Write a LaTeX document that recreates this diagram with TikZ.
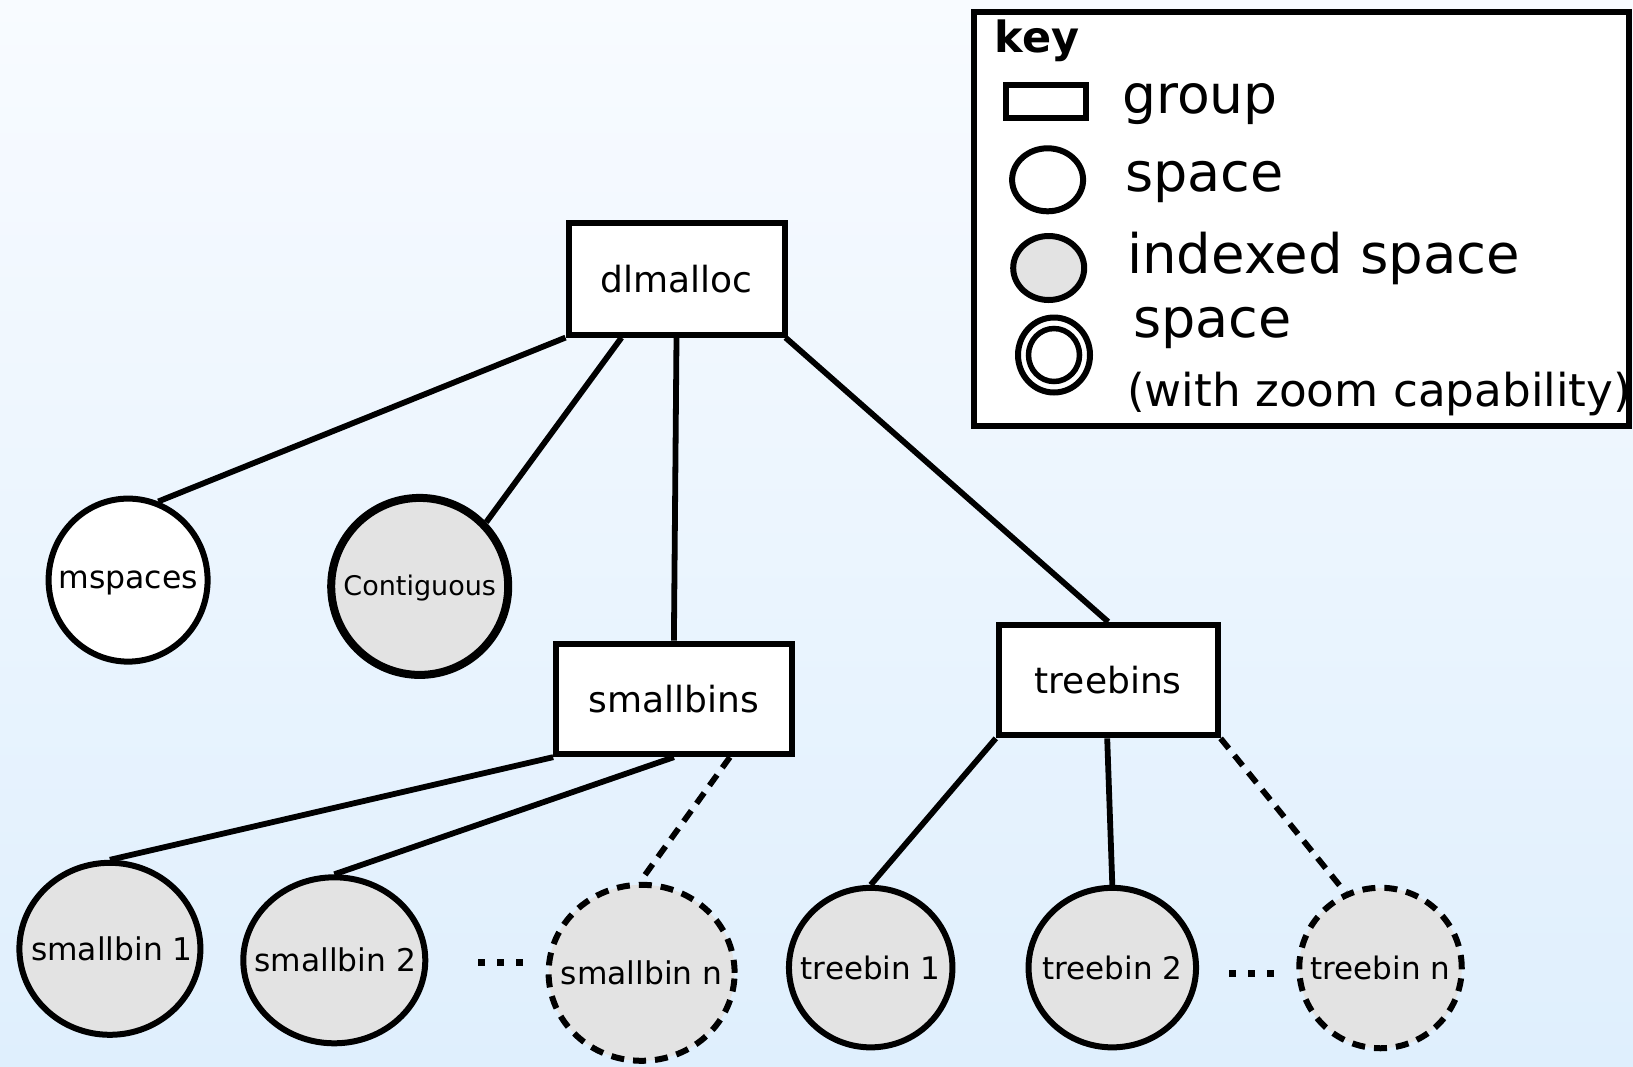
\documentclass[tikz,border=0pt]{standalone}
\usepackage{fontspec}
\setmainfont{DejaVu Sans}
\usetikzlibrary{shapes.geometric}
\definecolor{bgtop}{HTML}{F8FBFF}
\definecolor{bgbot}{HTML}{DFEFFD}
\definecolor{binfill}{HTML}{E3E3E3}
\newcommand{\fsz}[1]{\fontsize{#1}{#1}\selectfont}
\begin{document}
\begin{tikzpicture}[x=1pt,y=-1pt,
  group/.style={draw, line width=6pt, fill=white, inner sep=0pt, font=\fsz{36}},
  space/.style={ellipse, draw, line width=6pt, fill=white, inner sep=0pt},
  indexed/.style={space, fill=binfill},
  pending/.style={indexed, dash pattern=on 13pt off 9pt},
  link/.style={line width=5.8pt},
  dashlink/.style={line width=5.8pt, dash pattern=on 13pt off 9pt},
  keytext/.style={anchor=base west, inner sep=0pt},
  dotmark/.style={fill=black}
]
% background
\shade[top color=bgtop, bottom color=bgbot] (0,0) rectangle (1633,1066);
\useasboundingbox (0,0) rectangle (1633,1066);

% groups
\node[group, minimum width=216pt, minimum height=112pt] (dlmalloc) at (676.5,278.6) {dlmalloc};
\node[group, minimum width=235.5pt, minimum height=110.5pt] (smallbins) at (673.9,698.9) {smallbins};
\node[group, minimum width=218.8pt, minimum height=110.5pt] (treebins) at (1108.2,680.1) {treebins};

% spaces
\node[space, minimum width=159pt, minimum height=163pt,
      label={[font=\fsz{31.5}, yshift=-3pt]center:mspaces}] (mspaces) at (128.1,580.1) {};
\node[indexed, line width=8pt, minimum width=177pt, minimum height=177pt,
      label={[font=\fsz{27}, yshift=-2pt]center:Contiguous}] (contig) at (419.7,586.4) {};

\node[indexed, minimum width=181pt, minimum height=172pt,
      label={[font=\fsz{31.3}, xshift=2pt]center:smallbin 1}] (sb1) at (109.9,948.8) {};
\node[indexed, minimum width=182pt, minimum height=166pt,
      label={[font=\fsz{31.3}, xshift=1pt]center:smallbin 2}] (sb2) at (334.3,960.3) {};
\node[pending, minimum width=186pt, minimum height=176pt,
      label={[font=\fsz{31.3}]center:smallbin n}] (sbn) at (641.6,972.8) {};

\node[indexed, minimum width=163.5pt, minimum height=159.5pt,
      label={[font=\fsz{31}]center:treebin 1}] (tb1) at (870.7,967.6) {};
\node[indexed, minimum width=167.5pt, minimum height=159.5pt,
      label={[font=\fsz{31}]center:treebin 2}] (tb2) at (1112.3,967.6) {};
\node[pending, minimum width=162.5pt, minimum height=160.5pt,
      label={[font=\fsz{31}]center:treebin n}] (tbn) at (1380.5,968) {};

% connectors
\draw[link] (dlmalloc.south west) -- (mspaces.69);
\draw[link] ([xshift=-55pt]dlmalloc.south) -- (contig.44);
\draw[link] (dlmalloc.south) -- (smallbins.north);
\draw[link] ([xshift=-2pt]dlmalloc.south east) -- (treebins.north);

\draw[link] (smallbins.south west) -- (sb1.north);
\draw[link] (smallbins.south) -- (sb2.north);
\draw[dashlink] ([xshift=56pt]smallbins.south) -- (sbn.91);

\draw[link] (treebins.south west) -- (tb1.north);
\draw[link] ([xshift=-1pt]treebins.south) -- (tb2.north);
\draw[dashlink] (treebins.south east) -- (tbn.115);

% ellipsis marks between bins
\foreach \x in {481,500,519} \fill[dotmark] (\x-3.5,958.5) rectangle (\x+3.5,965.5);
\foreach \x in {1232,1251,1270} \fill[dotmark] (\x-3.5,969.5) rectangle (\x+3.5,976.5);

% key
\node[draw, line width=6pt, fill=white, inner sep=0pt, minimum width=655pt, minimum height=414pt] (keybox) at (1301.5,218.5) {};
\node[keytext, font=\bfseries\fsz{43}] (keytitle) at (994.6,52) {key};
\node[draw, line width=6pt, fill=white, inner sep=0pt, minimum width=80pt, minimum height=33pt] (keygroup) at (1046,101) {};
\node[keytext, font=\fsz{53.5}] (tgroup) at (1122,113.5) {group};
\node[space, minimum width=71pt, minimum height=63pt] (keyspace) at (1047.6,179.8) {};
\node[keytext, font=\fsz{54}] (tspace) at (1125,191.6) {space};
\node[indexed, minimum width=71pt, minimum height=64pt] (keyindexed) at (1048.7,268) {};
\node[keytext, font=\fsz{54.5}] (tindexed) at (1127,273) {indexed space};
\node[space, minimum width=72pt, minimum height=75pt] (keyzoom) at (1054,355) {};
\node[draw, ellipse, line width=5.5pt, inner sep=0pt, minimum width=51pt, minimum height=53pt] (keyzoominner) at (1054,355) {};
\node[keytext, font=\fsz{54}] (tzoom) at (1133,337.5) {space};
\node[keytext, font=\fsz{45.3}] (tzoomcap) at (1127,406) {(with zoom capability)};
\end{tikzpicture}
\end{document}
